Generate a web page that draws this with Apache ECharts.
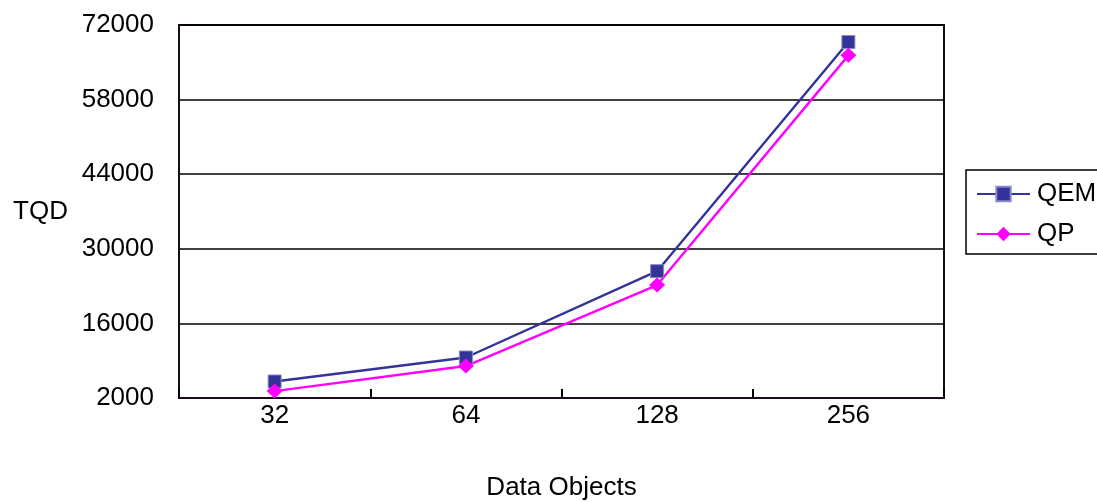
<!DOCTYPE html>
<html>
<head>
<meta charset="utf-8">
<script src="https://cdn.jsdelivr.net/npm/echarts@6/dist/echarts.min.js"></script>
<style>html,body{margin:0;padding:0;background:#fff;}#c{width:1097px;height:502px;}</style>
</head>
<body>
<div id="c"></div>
<script>
const categories = ['32', '64', '128', '256'];
const qemValues = [5100, 9600, 25800, 68800];
const qpValues = [3300, 8000, 23200, 66300];
const yTicks = [2000, 16000, 30000, 44000, 58000, 72000];

const font = '"Liberation Sans", Arial, sans-serif';
const fs = 26;
const chart = echarts.init(document.getElementById('c'), null, {renderer: 'canvas'});
chart.setOption({
  animation: false,
  backgroundColor: '#fff',
  grid: {left: 179, right: 153, top: 25, bottom: 104, outerBoundsMode: 'none', containLabel: false,
    show: true, borderColor: '#1a0a1a', borderWidth: 2, backgroundColor: 'transparent'},
  legend: {
    orient: 'vertical', left: 966, top: 170,
    borderColor: '#000', borderWidth: 1.5, padding: [11, 8, 7, 10],
    itemWidth: 53, itemHeight: 18, itemGap: 14,
    textStyle: {fontFamily: font, fontSize: fs, color: '#000', padding: [0, 0, 0, 2]},
    data: ['QEM', 'QP']
  },
  xAxis: {
    type: 'category', data: categories, boundaryGap: true,
    name: 'Data Objects', nameLocation: 'middle', nameGap: 77,
    nameTextStyle: {fontFamily: font, fontSize: fs, color: '#000'},
    axisLine: {lineStyle: {color: '#1a0a1a', width: 2}},
    axisTick: {show: true, interval: 0, inside: true, length: 9, lineStyle: {color: '#000', width: 2}},
    axisLabel: {fontFamily: font, fontSize: fs, color: '#000', margin: 5}
  },
  yAxis: {
    type: 'value', min: 2000, max: 72000, interval: 14000,
    name: 'TQD', nameLocation: 'middle', nameRotate: 0, nameGap: 111,
    nameTextStyle: {fontFamily: font, fontSize: fs, color: '#000', lineHeight: 26, padding: [6, 0, 0, 0]},
    axisLine: {show: true, lineStyle: {color: '#1a0a1a', width: 2}},
    axisTick: {show: false, customValues: yTicks},
    axisLabel: {fontFamily: font, fontSize: fs, color: '#000', margin: 25, customValues: yTicks,
      formatter: function (v) { return String(v); }},
    splitLine: {lineStyle: {color: '#000', width: 1.5}}
  },
  series: [
    {
      name: 'QEM', type: 'line', data: qemValues,
      symbol: 'rect', symbolSize: 13,
      lineStyle: {color: '#333399', width: 2.4},
      itemStyle: {color: '#333399', borderColor: '#8888cc', borderWidth: 1}
    },
    {
      name: 'QP', type: 'line', data: qpValues,
      symbol: 'diamond', symbolSize: [16, 15],
      lineStyle: {color: '#ff00ff', width: 2.4},
      itemStyle: {color: '#ff00ff'}
    }
  ]
});
</script>
</body>
</html>
